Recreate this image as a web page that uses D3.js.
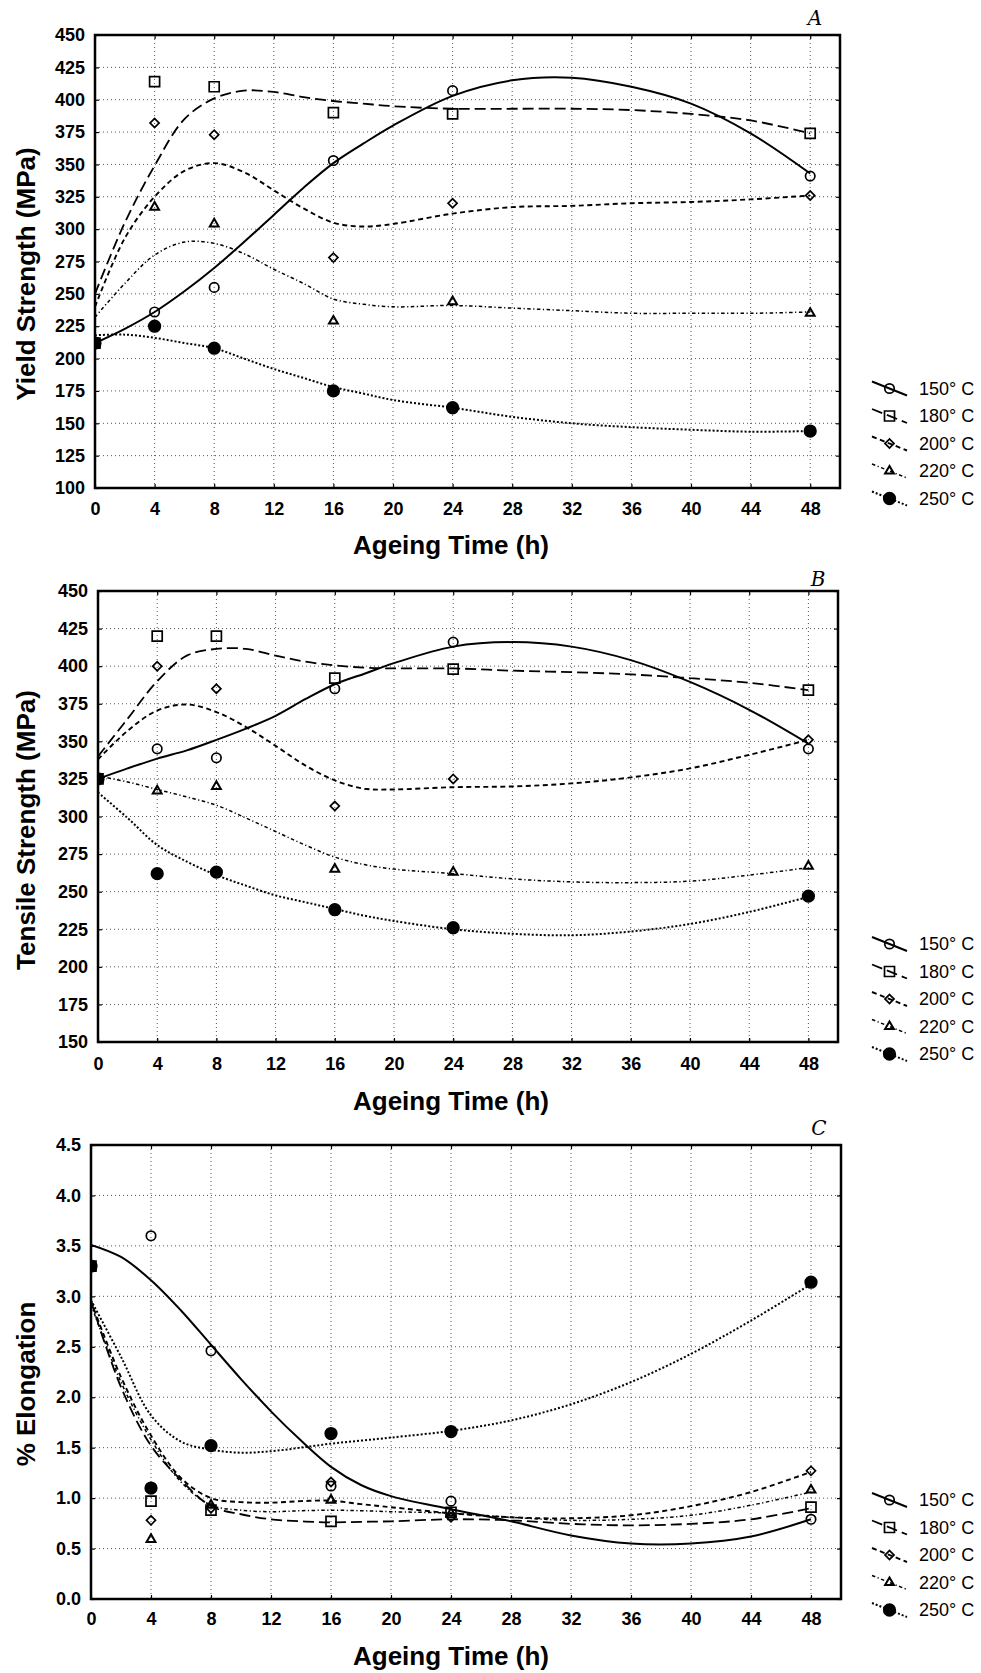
<!DOCTYPE html>
<html>
<head>
<meta charset="utf-8">
<script src="https://cdn.jsdelivr.net/npm/d3@7"></script>
<style>
  body { margin: 0; background: #fff; }
  svg { display: block; font-family: "Liberation Sans", Arial, sans-serif; }
</style>
</head>
<body>
<svg id="chart" width="981" height="1673"></svg>
<script>
const seriesNames = ["150° C", "180° C", "200° C", "220° C", "250° C"];
const markerTimes = [0, 4, 8, 16, 24, 48];
const fitTimes = [0, 2, 4, 6, 8, 10, 12, 14, 16, 18, 20, 24, 28, 32, 36, 40, 44, 48];
const xTicks = [0, 4, 8, 12, 16, 20, 24, 28, 32, 36, 40, 44, 48];

// A - yield strength
const yieldTicks = [100, 125, 150, 175, 200, 225, 250, 275, 300, 325, 350, 375, 400, 425, 450];
const yield150 = [212, 236, 255, 353, 407, 341];
const yield180 = [212, 414, 410, 390, 389, 374];
const yield200 = [212, 382, 373, 278, 320, 326];
const yield220 = [212, 317, 304, 229, 244, 235];
const yield250 = [212, 225, 208, 175, 162, 144];
const yieldFit150 = [212, 223, 236, 252, 270, 290, 311, 332, 351, 366, 380, 403, 415, 417, 410, 397, 374, 343];
const yieldFit180 = [250, 305, 349, 385, 401, 407, 406, 402, 399, 397, 395, 393, 393, 393, 392, 389, 384, 374];
const yieldFit200 = [240, 293, 325, 345, 351, 344, 330, 316, 305, 302, 304, 312, 317, 318, 320, 321, 323, 326];
const yieldFit220 = [232, 258, 280, 290, 289, 281, 269, 258, 246, 242, 240, 241, 239, 237, 235, 235, 235, 236];
const yieldFit250 = [218, 218.5, 216, 212, 208, 200, 192, 185, 178, 173, 168, 162, 155, 150, 147, 145, 143.5, 144];

// B - tensile strength
const tensileTicks = [150, 175, 200, 225, 250, 275, 300, 325, 350, 375, 400, 425, 450];
const tensile150 = [325, 345, 339, 385, 416, 345];
const tensile180 = [325, 420, 420, 392, 398, 384];
const tensile200 = [325, 400, 385, 307, 325, 351];
const tensile220 = [325, 317, 320, 265, 263, 267];
const tensile250 = [325, 262, 263, 238, 226, 247];
const tensileFit150 = [325, 332, 338.5, 344, 351, 358.5, 367, 378, 388, 395, 402, 413, 416, 413, 404, 389.5, 371, 348.5];
const tensileFit180 = [340, 365, 390, 407, 411.5, 411.5, 407, 403, 400.5, 399, 398.5, 398.5, 397, 396, 394.5, 392, 389, 384];
const tensileFit200 = [338, 357, 370.5, 374.5, 369.5, 359.5, 347, 334, 324, 318.5, 318, 319.5, 320, 322, 326, 332, 341, 351];
const tensileFit220 = [327, 323, 318, 313, 307.5, 299, 290, 281, 273, 268, 265, 262, 258.5, 256.5, 256, 257, 261, 266];
const tensileFit250 = [316, 299, 281, 270, 261, 254, 247.5, 243, 238.5, 234, 230.5, 225, 222, 221, 223.5, 228.5, 236.5, 246.5];

// C - elongation
const elongTicks = [0, 0.5, 1, 1.5, 2, 2.5, 3, 3.5, 4, 4.5];
const elong150 = [3.3, 3.6, 2.46, 1.12, 0.97, 0.79];
const elong180 = [3.3, 0.97, 0.88, 0.77, 0.86, 0.91];
const elong200 = [3.3, 0.78, 0.9, 1.16, 0.81, 1.27];
const elong220 = [3.3, 0.59, 0.93, 0.98, 0.85, 1.08];
const elong250 = [3.3, 1.1, 1.52, 1.64, 1.66, 3.14];
const elongFit150 = [3.51, 3.39, 3.16, 2.86, 2.52, 2.18, 1.86, 1.57, 1.31, 1.13, 1.02, 0.89, 0.77, 0.63, 0.55, 0.55, 0.62, 0.79];
const elongFit180 = [2.95, 2.1, 1.52, 1.18, 0.92, 0.84, 0.79, 0.77, 0.76, 0.765, 0.77, 0.79, 0.78, 0.745, 0.73, 0.745, 0.79, 0.9];
const elongFit200 = [2.95, 2.2, 1.62, 1.2, 1.0, 0.96, 0.955, 0.97, 0.975, 0.94, 0.91, 0.85, 0.81, 0.8, 0.83, 0.92, 1.06, 1.26];
const elongFit220 = [2.92, 2.15, 1.58, 1.16, 0.93, 0.88, 0.865, 0.875, 0.88, 0.875, 0.865, 0.85, 0.81, 0.78, 0.79, 0.83, 0.93, 1.06];
const elongFit250 = [2.96, 2.4, 1.82, 1.56, 1.48, 1.45, 1.465, 1.5, 1.54, 1.57, 1.6, 1.667, 1.77, 1.93, 2.15, 2.43, 2.76, 3.12];

const styles = [
  { dash: null, width: 2, symbol: "circle" },
  { dash: "11,5", width: 1.8, symbol: "square" },
  { dash: "5,3.5", width: 1.9, symbol: "diamond" },
  { dash: "3.5,2.5,1.2,2.5", width: 1.5, symbol: "triangle" },
  { dash: "2,2", width: 2, symbol: "dot" },
];

const symbolPaths = {
  circle: d3.symbol(d3.symbolCircle, 70)(),
  square: d3.symbol(d3.symbolSquare, 100)(),
  diamond: d3.symbol(d3.symbolSquare, 41)(),
  triangle: d3.symbol(d3.symbolTriangle, 34)(),
  dot: d3.symbol(d3.symbolCircle, 105)(),
};

const panels = [
  {
    id: "A", yTitle: "Yield Strength (MPa)", ticks: yieldTicks, fmt: d3.format("d"),
    markers: [yield150, yield180, yield200, yield220, yield250],
    fits: [yieldFit150, yieldFit180, yieldFit200, yieldFit220, yieldFit250],
    left: 95, right: 840, top: 35, bottom: 488, tickBase: 515, xTitleY: 554,
    yTitleY: 274, labelX: 815, labelY: 25, legendTop: 388.5,
  },
  {
    id: "B", yTitle: "Tensile Strength (MPa)", ticks: tensileTicks, fmt: d3.format("d"),
    markers: [tensile150, tensile180, tensile200, tensile220, tensile250],
    fits: [tensileFit150, tensileFit180, tensileFit200, tensileFit220, tensileFit250],
    left: 98, right: 838, top: 591, bottom: 1042, tickBase: 1070, xTitleY: 1110,
    yTitleY: 830, labelX: 818, labelY: 586, legendTop: 944,
  },
  {
    id: "C", yTitle: "% Elongation", ticks: elongTicks, fmt: d3.format(".1f"),
    markers: [elong150, elong180, elong200, elong220, elong250],
    fits: [elongFit150, elongFit180, elongFit200, elongFit220, elongFit250],
    left: 91, right: 841, top: 1145, bottom: 1599, tickBase: 1625, xTitleY: 1665,
    yTitleY: 1384, labelX: 819, labelY: 1135, legendTop: 1500,
  },
];

const svg = d3.select("#chart");
const defs = svg.append("defs");

panels.forEach(drawPanel);

function drawMarker(sel, type) {
  const p = sel
    .append("path")
    .attr("d", symbolPaths[type])
    .attr("stroke", "#000")
    .attr("stroke-width", type === "triangle" ? 2 : 1.7)
    .attr("fill", type === "dot" ? "#000" : "none");
  if (type === "diamond") p.attr("transform", "rotate(45)");
}

function drawPanel(p) {
  const x = d3.scaleLinear().domain([0, 50]).range([p.left, p.right]);
  const y = d3
    .scaleLinear()
    .domain([p.ticks[0], p.ticks[p.ticks.length - 1]])
    .range([p.bottom, p.top]);

  defs
    .append("clipPath")
    .attr("id", "clip" + p.id)
    .append("rect")
    .attr("x", p.left)
    .attr("y", p.top)
    .attr("width", p.right - p.left)
    .attr("height", p.bottom - p.top);

  const g = svg.append("g");

  // dotted grid
  g.append("g")
    .selectAll("line")
    .data(xTicks.slice(1))
    .join("line")
    .attr("x1", (d) => x(d))
    .attr("x2", (d) => x(d))
    .attr("y1", p.top)
    .attr("y2", p.bottom)
    .attr("stroke", "#555")
    .attr("stroke-width", 1)
    .attr("stroke-dasharray", "1,3");

  g.append("g")
    .selectAll("line")
    .data(p.ticks.slice(1, -1))
    .join("line")
    .attr("x1", p.left)
    .attr("x2", p.right)
    .attr("y1", (d) => y(d))
    .attr("y2", (d) => y(d))
    .attr("stroke", "#555")
    .attr("stroke-width", 1)
    .attr("stroke-dasharray", "1,3");

  const plot = g.append("g").attr("clip-path", `url(#clip${p.id})`);

  const line = d3
    .line()
    .x((d) => x(d[0]))
    .y((d) => y(d[1]))
    .curve(d3.curveCatmullRom.alpha(0.5));

  p.fits.forEach((vals, i) => {
    plot
      .append("path")
      .datum(fitTimes.map((t, j) => [t, vals[j]]))
      .attr("d", line)
      .attr("fill", "none")
      .attr("stroke", "#000")
      .attr("stroke-width", styles[i].width)
      .attr("stroke-dasharray", styles[i].dash);
  });

  p.markers.forEach((vals, i) => {
    plot
      .append("g")
      .selectAll("g")
      .data(markerTimes.map((t, j) => [t, vals[j]]))
      .join("g")
      .attr("transform", (d) => `translate(${x(d[0])},${y(d[1])})`)
      .each(function () {
        drawMarker(d3.select(this), styles[i].symbol);
      });
  });

  // axes
  const left = g
    .append("g")
    .attr("transform", `translate(${p.left},0)`)
    .call(d3.axisLeft(y).tickValues(p.ticks).tickFormat(p.fmt).tickSize(-4).tickPadding(10));
  const bottom = g
    .append("g")
    .attr("transform", `translate(0,${p.bottom})`)
    .call(d3.axisBottom(x).tickValues(xTicks).tickSize(-4));
  g.append("g")
    .attr("transform", `translate(${p.right},0)`)
    .call(d3.axisRight(y).tickValues(p.ticks).tickSize(-4).tickFormat(""));
  g.append("g")
    .attr("transform", `translate(0,${p.top})`)
    .call(d3.axisTop(x).tickValues(xTicks).tickSize(-4).tickFormat(""));

  g.selectAll(".domain").remove();
  g.selectAll(".tick line").attr("stroke", "#000").attr("stroke-width", 1.2);

  left
    .selectAll("text")
    .attr("font-size", 18)
    .attr("font-weight", "bold")
    .attr("fill", "#000")
    .attr("font-family", '"Liberation Sans", Arial, sans-serif');
  bottom
    .selectAll("text")
    .attr("y", p.tickBase - p.bottom)
    .attr("dy", 0)
    .attr("font-size", 18)
    .attr("font-weight", "bold")
    .attr("fill", "#000")
    .attr("font-family", '"Liberation Sans", Arial, sans-serif');

  g.append("rect")
    .attr("x", p.left)
    .attr("y", p.top)
    .attr("width", p.right - p.left)
    .attr("height", p.bottom - p.top)
    .attr("fill", "none")
    .attr("stroke", "#000")
    .attr("stroke-width", 2.5);

  // titles
  g.append("text")
    .attr("x", 353)
    .attr("y", p.xTitleY)
    .attr("font-size", 26)
    .attr("font-weight", "bold")
    .text("Ageing Time (h)");

  g.append("text")
    .attr("transform", `translate(35,${p.yTitleY}) rotate(-90)`)
    .attr("text-anchor", "middle")
    .attr("font-size", 26)
    .attr("font-weight", "bold")
    .text(p.yTitle);

  g.append("text")
    .attr("x", p.labelX)
    .attr("y", p.labelY)
    .attr("text-anchor", "middle")
    .attr("font-family", '"DejaVu Serif", serif')
    .attr("font-style", "italic")
    .attr("font-size", 20)
    .text(p.id);

  // legend
  const legend = g
    .selectAll(".legend")
    .data(seriesNames)
    .join("g")
    .attr("transform", (d, i) => `translate(0,${p.legendTop + i * 27.5})`);

  legend
    .append("line")
    .attr("x1", 872)
    .attr("y1", -7)
    .attr("x2", 907)
    .attr("y2", 7)
    .attr("stroke", "#000")
    .attr("stroke-width", (d, i) => styles[i].width)
    .attr("stroke-dasharray", (d, i) => styles[i].dash);

  legend.each(function (d, i) {
    const m = d3.select(this).append("g").attr("transform", "translate(889.5,0)");
    drawMarker(m, styles[i].symbol);
  });

  legend
    .append("text")
    .attr("x", 919)
    .attr("dy", "0.36em")
    .attr("font-size", 18)
    .text((d) => d);
}
</script>
</body>
</html>
